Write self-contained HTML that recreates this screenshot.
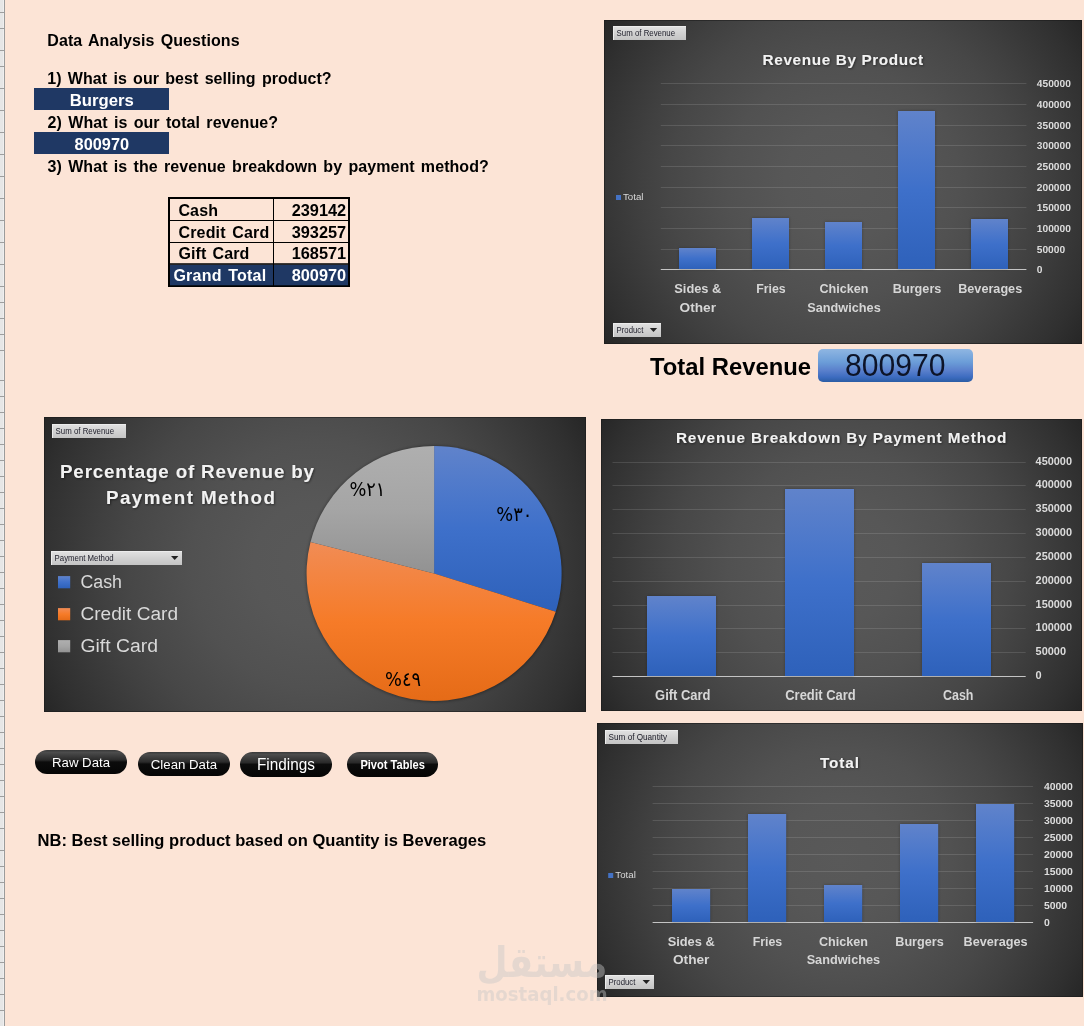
<!DOCTYPE html>
<html lang="en"><head><meta charset="utf-8"><title>Data Analysis Dashboard</title>
<style>
html,body{margin:0;padding:0}
body{width:1084px;height:1026px;overflow:hidden;background:#FCE4D6}
svg{display:block;position:absolute;left:0;top:0}
text{font-family:"Liberation Sans","DejaVu Sans",sans-serif;white-space:pre}
.b{font-weight:bold;fill:#000}
.sp{word-spacing:1.75px}
.w{font-weight:bold;fill:#fff}
.ttl{font-weight:bold;fill:#f2f2f2}
.cat{font-weight:bold;fill:#d6d6d6}
.ax{font-weight:bold;fill:#dcdcdc}
.axg{font-weight:bold;fill:#dcdcdc;text-rendering:geometricPrecision}
.lg{fill:#d9d9d9}
.pbt{fill:#1c1c28}
.btn{fill:#fff}
.pl{font-family:"DejaVu Sans","Liberation Sans",sans-serif;fill:#000}
.wm{font-family:"DejaVu Sans","Liberation Sans",sans-serif;font-weight:bold;fill:#c8c8c8}
</style></head><body>
<svg width="1084" height="1026" viewBox="0 0 1084 1026">
<defs>
<radialGradient id="dg" cx="0.5" cy="0.5" r="0.7071"><stop offset="0" stop-color="#595959"/><stop offset="1" stop-color="#262626"/></radialGradient>
<linearGradient id="bar" x1="0" y1="0" x2="0" y2="1"><stop offset="0" stop-color="#6083CB"/><stop offset="0.5" stop-color="#3E70CA"/><stop offset="1" stop-color="#2E61BA"/></linearGradient>
<linearGradient id="org" x1="0" y1="0" x2="0" y2="1"><stop offset="0" stop-color="#F18C55"/><stop offset="0.5" stop-color="#F67B28"/><stop offset="1" stop-color="#E56B17"/></linearGradient>
<linearGradient id="gry" x1="0" y1="0" x2="0" y2="1"><stop offset="0" stop-color="#AFAFAF"/><stop offset="0.5" stop-color="#A5A5A5"/><stop offset="1" stop-color="#929292"/></linearGradient>
<linearGradient id="pb" x1="0" y1="0" x2="0" y2="1"><stop offset="0" stop-color="#e2e2e2"/><stop offset="0.5" stop-color="#d2d2d2"/><stop offset="1" stop-color="#c4c4c4"/></linearGradient>
<linearGradient id="blu" x1="0" y1="0" x2="0" y2="1"><stop offset="0" stop-color="#8fb6e2"/><stop offset="0.4" stop-color="#6b9dd8"/><stop offset="0.65" stop-color="#5a80cc"/><stop offset="0.85" stop-color="#3d6cc0"/><stop offset="1" stop-color="#2a5ca4"/></linearGradient>
<linearGradient id="blk" x1="0" y1="0" x2="0" y2="1"><stop offset="0" stop-color="#3a3a3a"/><stop offset="0.1" stop-color="#4c4c4c"/><stop offset="0.42" stop-color="#2a2a2a"/><stop offset="0.5" stop-color="#0c0c0c"/><stop offset="1" stop-color="#050505"/></linearGradient>
<filter id="bl" x="-30%" y="-30%" width="160%" height="160%"><feGaussianBlur stdDeviation="1.6"/></filter>
<filter id="ts" x="-10%" y="-30%" width="120%" height="170%"><feDropShadow dx="0.8" dy="0.8" stdDeviation="0.8" flood-color="#000" flood-opacity="0.55"/></filter>
</defs>
<rect x="0" y="0" width="4" height="1026" fill="#e6e6e6"/>
<rect x="3" y="0" width="1" height="1026" fill="#efefef"/>
<path d="M0 12.5h4M0 28.5h4M0 50.5h4M0 66.5h4M0 88.5h4M0 110.5h4M0 132.5h4M0 154.5h4M0 176.5h4M0 198.5h4M0 220.5h4M0 242.5h4M0 264.5h4M0 286.5h4M0 302.5h4M0 318.5h4M0 334.5h4M0 350.5h4M0 380.5h4M0 396.5h4M0 412.5h4M0 428.5h4M0 444.5h4M0 460.5h4M0 476.5h4M0 492.5h4M0 508.5h4M0 524.5h4M0 540.5h4M0 556.5h4M0 572.5h4M0 588.5h4M0 604.5h4M0 620.5h4M0 636.5h4M0 652.5h4M0 668.5h4M0 684.5h4M0 700.5h4M0 716.5h4M0 732.5h4M0 748.5h4M0 764.5h4M0 780.5h4M0 796.5h4M0 812.5h4M0 828.5h4M0 850.5h4M0 866.5h4M0 882.5h4M0 898.5h4M0 914.5h4M0 930.5h4M0 946.5h4M0 962.5h4M0 978.5h4M0 994.5h4M0 1010.5h4" stroke="#9e9e9e" stroke-width="1" fill="none"/>
<rect x="4" y="0" width="1" height="1026" fill="#9b9b9b"/>
<text x="47.3" y="45.7" font-size="16.00" textLength="192.3" lengthAdjust="spacing" class="b sp">Data Analysis Questions</text>
<text x="47.3" y="83.5" font-size="16.00" textLength="284.3" lengthAdjust="spacing" class="b sp">1) What is our best selling product?</text>
<rect x="34" y="88" width="135" height="22" fill="#1F3864"/>
<text x="101.8" y="105.6" font-size="16.00" text-anchor="middle" textLength="64.0" lengthAdjust="spacingAndGlyphs" class="w">Burgers</text>
<text x="47.6" y="127.7" font-size="16.00" textLength="230.4" lengthAdjust="spacing" class="b sp">2) What is our total revenue?</text>
<rect x="34" y="132" width="135" height="22" fill="#1F3864"/>
<text x="101.8" y="149.7" font-size="16.00" text-anchor="middle" textLength="54.5" lengthAdjust="spacingAndGlyphs" class="w">800970</text>
<text x="47.6" y="171.7" font-size="16.00" textLength="441.2" lengthAdjust="spacing" class="b sp">3) What is the revenue breakdown by payment method?</text>
<rect x="169" y="198" width="180" height="88" fill="none" stroke="#000" stroke-width="2"/>
<rect x="170" y="264.5" width="178" height="20.8" fill="#1F3864"/>
<path d="M273.5 198v88M169 220.5h180M169 242.5h180" stroke="#000" stroke-width="1" fill="none"/>
<path d="M169 264h180" stroke="#000" stroke-width="1.6" fill="none"/>
<text x="178.4" y="215.9" font-size="16.00" textLength="39.6" lengthAdjust="spacing" class="b sp">Cash</text>
<text x="346.2" y="215.9" font-size="16.00" text-anchor="end" textLength="54.5" lengthAdjust="spacingAndGlyphs" class="b">239142</text>
<text x="178.4" y="237.9" font-size="16.00" textLength="90.8" lengthAdjust="spacing" class="b sp">Credit Card</text>
<text x="346.2" y="237.9" font-size="16.00" text-anchor="end" textLength="54.5" lengthAdjust="spacingAndGlyphs" class="b">393257</text>
<text x="178.4" y="259.2" font-size="16.00" textLength="70.9" lengthAdjust="spacing" class="b sp">Gift Card</text>
<text x="346.2" y="259.2" font-size="16.00" text-anchor="end" textLength="54.5" lengthAdjust="spacingAndGlyphs" class="b">168571</text>
<text x="173.4" y="280.9" font-size="16.00" textLength="92.8" lengthAdjust="spacing" class="w sp">Grand Total</text>
<text x="346.2" y="280.9" font-size="16.00" text-anchor="end" textLength="54.5" lengthAdjust="spacingAndGlyphs" class="w">800970</text>
<radialGradient id="dg1" gradientUnits="userSpaceOnUse" cx="843.0" cy="182.0" r="288.7"><stop offset="0.0" stop-color="#595959"/><stop offset="0.1" stop-color="#585858"/><stop offset="0.2" stop-color="#575757"/><stop offset="0.3" stop-color="#545454"/><stop offset="0.4" stop-color="#515151"/><stop offset="0.5" stop-color="#4c4c4c"/><stop offset="0.6" stop-color="#474747"/><stop offset="0.7" stop-color="#404040"/><stop offset="0.8" stop-color="#383838"/><stop offset="0.9" stop-color="#303030"/><stop offset="1.0" stop-color="#262626"/></radialGradient>
<rect x="604.0" y="20.0" width="478.0" height="324.0" fill="url(#dg1)"/>
<rect x="604.5" y="20.5" width="477.0" height="323.0" fill="none" stroke="#1a1a1a" stroke-opacity="0.55" stroke-width="1"/>
<line x1="660.8" y1="269.5" x2="1026.4" y2="269.5" stroke="#c4c4c4" stroke-width="1"/>
<text x="1036.8" y="273.0" font-size="10.20" textLength="5.7" lengthAdjust="spacingAndGlyphs" class="axg">0</text>
<line x1="660.8" y1="249.5" x2="1026.4" y2="249.5" stroke="#fff" stroke-opacity="0.12" stroke-width="1"/>
<text x="1036.8" y="253.0" font-size="10.20" textLength="28.3" lengthAdjust="spacingAndGlyphs" class="axg">50000</text>
<line x1="660.8" y1="228.5" x2="1026.4" y2="228.5" stroke="#fff" stroke-opacity="0.12" stroke-width="1"/>
<text x="1036.8" y="232.0" font-size="10.20" textLength="34.0" lengthAdjust="spacingAndGlyphs" class="axg">100000</text>
<line x1="660.8" y1="207.5" x2="1026.4" y2="207.5" stroke="#fff" stroke-opacity="0.12" stroke-width="1"/>
<text x="1036.8" y="211.0" font-size="10.20" textLength="34.0" lengthAdjust="spacingAndGlyphs" class="axg">150000</text>
<line x1="660.8" y1="187.5" x2="1026.4" y2="187.5" stroke="#fff" stroke-opacity="0.12" stroke-width="1"/>
<text x="1036.8" y="191.0" font-size="10.20" textLength="34.0" lengthAdjust="spacingAndGlyphs" class="axg">200000</text>
<line x1="660.8" y1="166.5" x2="1026.4" y2="166.5" stroke="#fff" stroke-opacity="0.12" stroke-width="1"/>
<text x="1036.8" y="170.0" font-size="10.20" textLength="34.0" lengthAdjust="spacingAndGlyphs" class="axg">250000</text>
<line x1="660.8" y1="145.5" x2="1026.4" y2="145.5" stroke="#fff" stroke-opacity="0.12" stroke-width="1"/>
<text x="1036.8" y="149.0" font-size="10.20" textLength="34.0" lengthAdjust="spacingAndGlyphs" class="axg">300000</text>
<line x1="660.8" y1="125.5" x2="1026.4" y2="125.5" stroke="#fff" stroke-opacity="0.12" stroke-width="1"/>
<text x="1036.8" y="129.0" font-size="10.20" textLength="34.0" lengthAdjust="spacingAndGlyphs" class="axg">350000</text>
<line x1="660.8" y1="104.5" x2="1026.4" y2="104.5" stroke="#fff" stroke-opacity="0.12" stroke-width="1"/>
<text x="1036.8" y="108.0" font-size="10.20" textLength="34.0" lengthAdjust="spacingAndGlyphs" class="axg">400000</text>
<line x1="660.8" y1="83.5" x2="1026.4" y2="83.5" stroke="#fff" stroke-opacity="0.12" stroke-width="1"/>
<text x="1036.8" y="87.0" font-size="10.20" textLength="34.0" lengthAdjust="spacingAndGlyphs" class="axg">450000</text>
<rect x="679.0" y="248.0" width="37.0" height="21.0" fill="#000" opacity="0.28" filter="url(#bl)"/>
<rect x="679.0" y="248.0" width="37.0" height="21.0" fill="url(#bar)"/>
<text x="697.8" y="293.0" font-size="13.20" text-anchor="middle" textLength="47.0" lengthAdjust="spacingAndGlyphs" class="cat">Sides &amp;</text>
<text x="697.8" y="311.7" font-size="13.20" text-anchor="middle" textLength="36.5" lengthAdjust="spacingAndGlyphs" class="cat">Other</text>
<rect x="752.0" y="218.0" width="37.0" height="51.0" fill="#000" opacity="0.28" filter="url(#bl)"/>
<rect x="752.0" y="218.0" width="37.0" height="51.0" fill="url(#bar)"/>
<text x="770.9" y="293.0" font-size="13.20" text-anchor="middle" textLength="29.5" lengthAdjust="spacingAndGlyphs" class="cat">Fries</text>
<rect x="825.0" y="222.0" width="37.0" height="47.0" fill="#000" opacity="0.28" filter="url(#bl)"/>
<rect x="825.0" y="222.0" width="37.0" height="47.0" fill="url(#bar)"/>
<text x="844.0" y="293.0" font-size="13.20" text-anchor="middle" textLength="49.0" lengthAdjust="spacingAndGlyphs" class="cat">Chicken</text>
<text x="844.0" y="311.7" font-size="13.20" text-anchor="middle" textLength="73.5" lengthAdjust="spacingAndGlyphs" class="cat">Sandwiches</text>
<rect x="898.0" y="111.0" width="37.0" height="158.0" fill="#000" opacity="0.28" filter="url(#bl)"/>
<rect x="898.0" y="111.0" width="37.0" height="158.0" fill="url(#bar)"/>
<text x="917.1" y="293.0" font-size="13.20" text-anchor="middle" textLength="48.5" lengthAdjust="spacingAndGlyphs" class="cat">Burgers</text>
<rect x="971.0" y="219.0" width="37.0" height="50.0" fill="#000" opacity="0.28" filter="url(#bl)"/>
<rect x="971.0" y="219.0" width="37.0" height="50.0" fill="url(#bar)"/>
<text x="990.2" y="293.0" font-size="13.20" text-anchor="middle" textLength="64.0" lengthAdjust="spacingAndGlyphs" class="cat">Beverages</text>
<text x="842.8" y="64.7" font-size="15.30" text-anchor="middle" textLength="160.5" lengthAdjust="spacing" class="ttl" filter="url(#ts)">Revenue By Product</text>
<rect x="613.0" y="26.0" width="73.0" height="14.0" fill="url(#pb)"/>
<path d="M613.5 26.0v14.0M613.0 26.5h73.0" stroke="#ececec" stroke-width="1" fill="none"/>
<text x="616.6" y="36.0" font-size="8.20" textLength="58.5" lengthAdjust="spacingAndGlyphs" class="pbt">Sum of Revenue</text>
<rect x="613.0" y="323.0" width="48.0" height="14.0" fill="url(#pb)"/>
<path d="M613.5 323.0v14.0M613.0 323.5h48.0" stroke="#ececec" stroke-width="1" fill="none"/>
<text x="616.6" y="333.0" font-size="8.20" textLength="26.8" lengthAdjust="spacingAndGlyphs" class="pbt">Product</text>
<path d="M649.8 327.9h7.4l-3.7 4.1z" fill="#222"/>
<rect x="616" y="195" width="5" height="5" fill="#4472C4"/>
<text x="623.0" y="200.2" font-size="9.40" textLength="20.5" lengthAdjust="spacingAndGlyphs" class="lg">Total</text>
<text x="650.0" y="374.9" font-size="24.00" textLength="161.0" lengthAdjust="spacingAndGlyphs" class="b">Total Revenue</text>
<rect x="818" y="349" width="155" height="33" rx="5" ry="5" fill="url(#blu)"/>
<text x="895.2" y="375.7" font-size="32.20" text-anchor="middle" textLength="100.5" lengthAdjust="spacingAndGlyphs" fill="#0d1428">800970</text>
<radialGradient id="dg2" gradientUnits="userSpaceOnUse" cx="315.0" cy="564.5" r="308.5"><stop offset="0.0" stop-color="#595959"/><stop offset="0.1" stop-color="#585858"/><stop offset="0.2" stop-color="#575757"/><stop offset="0.3" stop-color="#545454"/><stop offset="0.4" stop-color="#515151"/><stop offset="0.5" stop-color="#4c4c4c"/><stop offset="0.6" stop-color="#474747"/><stop offset="0.7" stop-color="#404040"/><stop offset="0.8" stop-color="#383838"/><stop offset="0.9" stop-color="#303030"/><stop offset="1.0" stop-color="#262626"/></radialGradient>
<rect x="44.0" y="417.0" width="542.0" height="295.0" fill="url(#dg2)"/>
<rect x="44.5" y="417.5" width="541.0" height="294.0" fill="none" stroke="#1a1a1a" stroke-opacity="0.55" stroke-width="1"/>
<circle cx="434.1" cy="573.9" r="128.1" fill="#000" opacity="0.35" filter="url(#bl)"/>
<path d="M434.10 573.40L434.10 445.90A127.50 127.50 0 0 1 555.71 611.71Z" fill="url(#bar)"/>
<path d="M434.10 573.40L555.71 611.71A127.50 127.50 0 0 1 310.51 542.05Z" fill="url(#org)"/>
<path d="M434.10 573.40L310.51 542.05A127.50 127.50 0 0 1 434.10 445.90Z" fill="url(#gry)"/>
<text x="60.0" y="478.0" font-size="18.80" textLength="254.0" lengthAdjust="spacing" class="ttl" filter="url(#ts)">Percentage of Revenue by</text>
<text x="106.0" y="503.6" font-size="18.80" textLength="169.0" lengthAdjust="spacing" class="ttl" filter="url(#ts)">Payment Method</text>
<rect x="51.0" y="551.0" width="131.0" height="14.0" fill="url(#pb)"/>
<path d="M51.5 551.0v14.0M51.0 551.5h131.0" stroke="#ececec" stroke-width="1" fill="none"/>
<text x="54.6" y="561.0" font-size="8.20" textLength="59.0" lengthAdjust="spacingAndGlyphs" class="pbt">Payment Method</text>
<path d="M171.0 555.9h7.4l-3.7 4.1z" fill="#222"/>
<rect x="52.0" y="424.0" width="74.0" height="14.0" fill="url(#pb)"/>
<path d="M52.5 424.0v14.0M52.0 424.5h74.0" stroke="#ececec" stroke-width="1" fill="none"/>
<text x="55.6" y="434.0" font-size="8.20" textLength="58.5" lengthAdjust="spacingAndGlyphs" class="pbt">Sum of Revenue</text>
<rect x="58" y="576.1" width="12.2" height="12.2" fill="url(#bar)"/>
<text x="80.5" y="587.5" font-size="19.20" textLength="41.5" lengthAdjust="spacingAndGlyphs" class="lg">Cash</text>
<rect x="58" y="608.1" width="12.2" height="12.2" fill="url(#org)"/>
<text x="80.5" y="619.5" font-size="19.20" textLength="97.5" lengthAdjust="spacingAndGlyphs" class="lg">Credit Card</text>
<rect x="58" y="640.1" width="12.2" height="12.2" fill="url(#gry)"/>
<text x="80.5" y="651.5" font-size="19.20" textLength="77.5" lengthAdjust="spacingAndGlyphs" class="lg">Gift Card</text>
<text x="514.3" y="521.0" font-size="19.50" text-anchor="middle" textLength="36.0" lengthAdjust="spacingAndGlyphs" class="pl" direction="ltr" unicode-bidi="bidi-override">%٣٠</text>
<text x="367.4" y="495.8" font-size="19.50" text-anchor="middle" textLength="36.0" lengthAdjust="spacingAndGlyphs" class="pl" direction="ltr" unicode-bidi="bidi-override">%٢١</text>
<text x="403.0" y="686.0" font-size="19.50" text-anchor="middle" textLength="36.0" lengthAdjust="spacingAndGlyphs" class="pl" direction="ltr" unicode-bidi="bidi-override">%٤٩</text>
<radialGradient id="dg3" gradientUnits="userSpaceOnUse" cx="841.5" cy="565.0" r="281.3"><stop offset="0.0" stop-color="#595959"/><stop offset="0.1" stop-color="#585858"/><stop offset="0.2" stop-color="#575757"/><stop offset="0.3" stop-color="#545454"/><stop offset="0.4" stop-color="#515151"/><stop offset="0.5" stop-color="#4c4c4c"/><stop offset="0.6" stop-color="#474747"/><stop offset="0.7" stop-color="#404040"/><stop offset="0.8" stop-color="#383838"/><stop offset="0.9" stop-color="#303030"/><stop offset="1.0" stop-color="#262626"/></radialGradient>
<rect x="601.0" y="419.0" width="481.0" height="292.0" fill="url(#dg3)"/>
<rect x="601.5" y="419.5" width="480.0" height="291.0" fill="none" stroke="#1a1a1a" stroke-opacity="0.55" stroke-width="1"/>
<line x1="612.5" y1="676.5" x2="1025.7" y2="676.5" stroke="#c4c4c4" stroke-width="1"/>
<text x="1035.6" y="679.3" font-size="11.00" textLength="6.1" lengthAdjust="spacingAndGlyphs" class="ax">0</text>
<line x1="612.5" y1="652.5" x2="1025.7" y2="652.5" stroke="#fff" stroke-opacity="0.12" stroke-width="1"/>
<text x="1035.6" y="655.3" font-size="11.00" textLength="30.4" lengthAdjust="spacingAndGlyphs" class="ax">50000</text>
<line x1="612.5" y1="628.5" x2="1025.7" y2="628.5" stroke="#fff" stroke-opacity="0.12" stroke-width="1"/>
<text x="1035.6" y="631.3" font-size="11.00" textLength="36.4" lengthAdjust="spacingAndGlyphs" class="ax">100000</text>
<line x1="612.5" y1="605.5" x2="1025.7" y2="605.5" stroke="#fff" stroke-opacity="0.12" stroke-width="1"/>
<text x="1035.6" y="608.3" font-size="11.00" textLength="36.4" lengthAdjust="spacingAndGlyphs" class="ax">150000</text>
<line x1="612.5" y1="581.5" x2="1025.7" y2="581.5" stroke="#fff" stroke-opacity="0.12" stroke-width="1"/>
<text x="1035.6" y="584.3" font-size="11.00" textLength="36.4" lengthAdjust="spacingAndGlyphs" class="ax">200000</text>
<line x1="612.5" y1="557.5" x2="1025.7" y2="557.5" stroke="#fff" stroke-opacity="0.12" stroke-width="1"/>
<text x="1035.6" y="560.3" font-size="11.00" textLength="36.4" lengthAdjust="spacingAndGlyphs" class="ax">250000</text>
<line x1="612.5" y1="533.5" x2="1025.7" y2="533.5" stroke="#fff" stroke-opacity="0.12" stroke-width="1"/>
<text x="1035.6" y="536.3" font-size="11.00" textLength="36.4" lengthAdjust="spacingAndGlyphs" class="ax">300000</text>
<line x1="612.5" y1="509.5" x2="1025.7" y2="509.5" stroke="#fff" stroke-opacity="0.12" stroke-width="1"/>
<text x="1035.6" y="512.3" font-size="11.00" textLength="36.4" lengthAdjust="spacingAndGlyphs" class="ax">350000</text>
<line x1="612.5" y1="485.5" x2="1025.7" y2="485.5" stroke="#fff" stroke-opacity="0.12" stroke-width="1"/>
<text x="1035.6" y="488.3" font-size="11.00" textLength="36.4" lengthAdjust="spacingAndGlyphs" class="ax">400000</text>
<line x1="612.5" y1="462.5" x2="1025.7" y2="462.5" stroke="#fff" stroke-opacity="0.12" stroke-width="1"/>
<text x="1035.6" y="465.3" font-size="11.00" textLength="36.4" lengthAdjust="spacingAndGlyphs" class="ax">450000</text>
<rect x="647.0" y="596.0" width="69.0" height="80.0" fill="#000" opacity="0.28" filter="url(#bl)"/>
<rect x="647.0" y="596.0" width="69.0" height="80.0" fill="url(#bar)"/>
<text x="682.8" y="700.2" font-size="13.80" text-anchor="middle" textLength="55.5" lengthAdjust="spacingAndGlyphs" class="cat">Gift Card</text>
<rect x="785.0" y="489.0" width="69.0" height="187.0" fill="#000" opacity="0.28" filter="url(#bl)"/>
<rect x="785.0" y="489.0" width="69.0" height="187.0" fill="url(#bar)"/>
<text x="820.5" y="700.2" font-size="13.80" text-anchor="middle" textLength="70.5" lengthAdjust="spacingAndGlyphs" class="cat">Credit Card</text>
<rect x="922.0" y="563.0" width="69.0" height="113.0" fill="#000" opacity="0.28" filter="url(#bl)"/>
<rect x="922.0" y="563.0" width="69.0" height="113.0" fill="url(#bar)"/>
<text x="958.2" y="700.2" font-size="13.80" text-anchor="middle" textLength="30.5" lengthAdjust="spacingAndGlyphs" class="cat">Cash</text>
<text x="841.2" y="442.9" font-size="15.30" text-anchor="middle" textLength="330.5" lengthAdjust="spacing" class="ttl" filter="url(#ts)">Revenue Breakdown By Payment Method</text>
<radialGradient id="dg4" gradientUnits="userSpaceOnUse" cx="840.0" cy="860.0" r="279.0"><stop offset="0.0" stop-color="#595959"/><stop offset="0.1" stop-color="#585858"/><stop offset="0.2" stop-color="#575757"/><stop offset="0.3" stop-color="#545454"/><stop offset="0.4" stop-color="#515151"/><stop offset="0.5" stop-color="#4c4c4c"/><stop offset="0.6" stop-color="#474747"/><stop offset="0.7" stop-color="#404040"/><stop offset="0.8" stop-color="#383838"/><stop offset="0.9" stop-color="#303030"/><stop offset="1.0" stop-color="#262626"/></radialGradient>
<rect x="597.0" y="723.0" width="486.0" height="274.0" fill="url(#dg4)"/>
<rect x="597.5" y="723.5" width="485.0" height="273.0" fill="none" stroke="#1a1a1a" stroke-opacity="0.55" stroke-width="1"/>
<line x1="652.6" y1="922.5" x2="1033.1" y2="922.5" stroke="#c4c4c4" stroke-width="1"/>
<text x="1043.9" y="926.0" font-size="10.20" textLength="5.8" lengthAdjust="spacingAndGlyphs" class="axg">0</text>
<line x1="652.6" y1="905.5" x2="1033.1" y2="905.5" stroke="#fff" stroke-opacity="0.12" stroke-width="1"/>
<text x="1043.9" y="909.0" font-size="10.20" textLength="23.2" lengthAdjust="spacingAndGlyphs" class="axg">5000</text>
<line x1="652.6" y1="888.5" x2="1033.1" y2="888.5" stroke="#fff" stroke-opacity="0.12" stroke-width="1"/>
<text x="1043.9" y="892.0" font-size="10.20" textLength="29.0" lengthAdjust="spacingAndGlyphs" class="axg">10000</text>
<line x1="652.6" y1="871.5" x2="1033.1" y2="871.5" stroke="#fff" stroke-opacity="0.12" stroke-width="1"/>
<text x="1043.9" y="875.0" font-size="10.20" textLength="29.0" lengthAdjust="spacingAndGlyphs" class="axg">15000</text>
<line x1="652.6" y1="854.5" x2="1033.1" y2="854.5" stroke="#fff" stroke-opacity="0.12" stroke-width="1"/>
<text x="1043.9" y="858.0" font-size="10.20" textLength="29.0" lengthAdjust="spacingAndGlyphs" class="axg">20000</text>
<line x1="652.6" y1="837.5" x2="1033.1" y2="837.5" stroke="#fff" stroke-opacity="0.12" stroke-width="1"/>
<text x="1043.9" y="841.0" font-size="10.20" textLength="29.0" lengthAdjust="spacingAndGlyphs" class="axg">25000</text>
<line x1="652.6" y1="820.5" x2="1033.1" y2="820.5" stroke="#fff" stroke-opacity="0.12" stroke-width="1"/>
<text x="1043.9" y="824.0" font-size="10.20" textLength="29.0" lengthAdjust="spacingAndGlyphs" class="axg">30000</text>
<line x1="652.6" y1="803.5" x2="1033.1" y2="803.5" stroke="#fff" stroke-opacity="0.12" stroke-width="1"/>
<text x="1043.9" y="807.0" font-size="10.20" textLength="29.0" lengthAdjust="spacingAndGlyphs" class="axg">35000</text>
<line x1="652.6" y1="786.5" x2="1033.1" y2="786.5" stroke="#fff" stroke-opacity="0.12" stroke-width="1"/>
<text x="1043.9" y="790.0" font-size="10.20" textLength="29.0" lengthAdjust="spacingAndGlyphs" class="axg">40000</text>
<rect x="672.0" y="889.0" width="38.2" height="33.0" fill="#000" opacity="0.28" filter="url(#bl)"/>
<rect x="672.0" y="889.0" width="38.2" height="33.0" fill="url(#bar)"/>
<text x="691.2" y="945.8" font-size="13.20" text-anchor="middle" textLength="47.0" lengthAdjust="spacingAndGlyphs" class="cat">Sides &amp;</text>
<text x="691.2" y="963.8" font-size="13.20" text-anchor="middle" textLength="36.5" lengthAdjust="spacingAndGlyphs" class="cat">Other</text>
<rect x="748.0" y="814.0" width="38.2" height="108.0" fill="#000" opacity="0.28" filter="url(#bl)"/>
<rect x="748.0" y="814.0" width="38.2" height="108.0" fill="url(#bar)"/>
<text x="767.4" y="945.8" font-size="13.20" text-anchor="middle" textLength="29.5" lengthAdjust="spacingAndGlyphs" class="cat">Fries</text>
<rect x="824.0" y="885.0" width="38.2" height="37.0" fill="#000" opacity="0.28" filter="url(#bl)"/>
<rect x="824.0" y="885.0" width="38.2" height="37.0" fill="url(#bar)"/>
<text x="843.4" y="945.8" font-size="13.20" text-anchor="middle" textLength="49.0" lengthAdjust="spacingAndGlyphs" class="cat">Chicken</text>
<text x="843.4" y="963.8" font-size="13.20" text-anchor="middle" textLength="73.5" lengthAdjust="spacingAndGlyphs" class="cat">Sandwiches</text>
<rect x="900.0" y="824.0" width="38.2" height="98.0" fill="#000" opacity="0.28" filter="url(#bl)"/>
<rect x="900.0" y="824.0" width="38.2" height="98.0" fill="url(#bar)"/>
<text x="919.5" y="945.8" font-size="13.20" text-anchor="middle" textLength="48.5" lengthAdjust="spacingAndGlyphs" class="cat">Burgers</text>
<rect x="976.0" y="804.0" width="38.2" height="118.0" fill="#000" opacity="0.28" filter="url(#bl)"/>
<rect x="976.0" y="804.0" width="38.2" height="118.0" fill="url(#bar)"/>
<text x="995.6" y="945.8" font-size="13.20" text-anchor="middle" textLength="64.0" lengthAdjust="spacingAndGlyphs" class="cat">Beverages</text>
<text x="839.5" y="768.3" font-size="15.30" text-anchor="middle" textLength="39.0" lengthAdjust="spacing" class="ttl" filter="url(#ts)">Total</text>
<rect x="605.0" y="730.0" width="73.0" height="14.0" fill="url(#pb)"/>
<path d="M605.5 730.0v14.0M605.0 730.5h73.0" stroke="#ececec" stroke-width="1" fill="none"/>
<text x="608.6" y="740.0" font-size="8.20" textLength="58.5" lengthAdjust="spacingAndGlyphs" class="pbt">Sum of Quantity</text>
<rect x="605.0" y="975.0" width="49.0" height="14.0" fill="url(#pb)"/>
<path d="M605.5 975.0v14.0M605.0 975.5h49.0" stroke="#ececec" stroke-width="1" fill="none"/>
<text x="608.6" y="985.0" font-size="8.20" textLength="26.8" lengthAdjust="spacingAndGlyphs" class="pbt">Product</text>
<path d="M642.6 979.9h7.4l-3.7 4.1z" fill="#222"/>
<rect x="608.2" y="873" width="5" height="5" fill="#4472C4"/>
<text x="615.3" y="878.2" font-size="9.40" textLength="20.5" lengthAdjust="spacingAndGlyphs" class="lg">Total</text>
<rect x="35.0" y="750.0" width="92.0" height="24.0" rx="12.0" ry="12.0" fill="url(#blk)"/>
<text x="81.0" y="767.3" font-size="13.20" text-anchor="middle" textLength="58.0" lengthAdjust="spacingAndGlyphs" class="btn">Raw Data</text>
<rect x="138.0" y="752.0" width="92.0" height="24.0" rx="12.0" ry="12.0" fill="url(#blk)"/>
<text x="183.9" y="769.2" font-size="13.20" text-anchor="middle" textLength="66.2" lengthAdjust="spacingAndGlyphs" class="btn">Clean Data</text>
<rect x="240.0" y="752.0" width="92.0" height="25.0" rx="12.5" ry="12.5" fill="url(#blk)"/>
<text x="286.0" y="770.0" font-size="15.60" text-anchor="middle" textLength="58.0" lengthAdjust="spacingAndGlyphs" class="btn">Findings</text>
<rect x="347.0" y="752.0" width="91.0" height="25.0" rx="12.5" ry="12.5" fill="url(#blk)"/>
<text x="392.6" y="769.2" font-size="12.00" text-anchor="middle" textLength="64.4" lengthAdjust="spacingAndGlyphs" class="btn" font-weight="bold">Pivot Tables</text>
<text x="37.6" y="845.8" font-size="16.00" textLength="448.6" lengthAdjust="spacingAndGlyphs" class="b">NB: Best selling product based on Quantity is Beverages</text>
<g opacity="0.43">
<text x="542.0" y="977.3" font-size="42.60" text-anchor="middle" textLength="131.0" lengthAdjust="spacingAndGlyphs" class="wm">مستقل</text>
<text x="542.0" y="1000.7" font-size="18.60" text-anchor="middle" textLength="131.0" lengthAdjust="spacingAndGlyphs" class="wm">mostaql.com</text>
</g>
</svg>
</body></html>
